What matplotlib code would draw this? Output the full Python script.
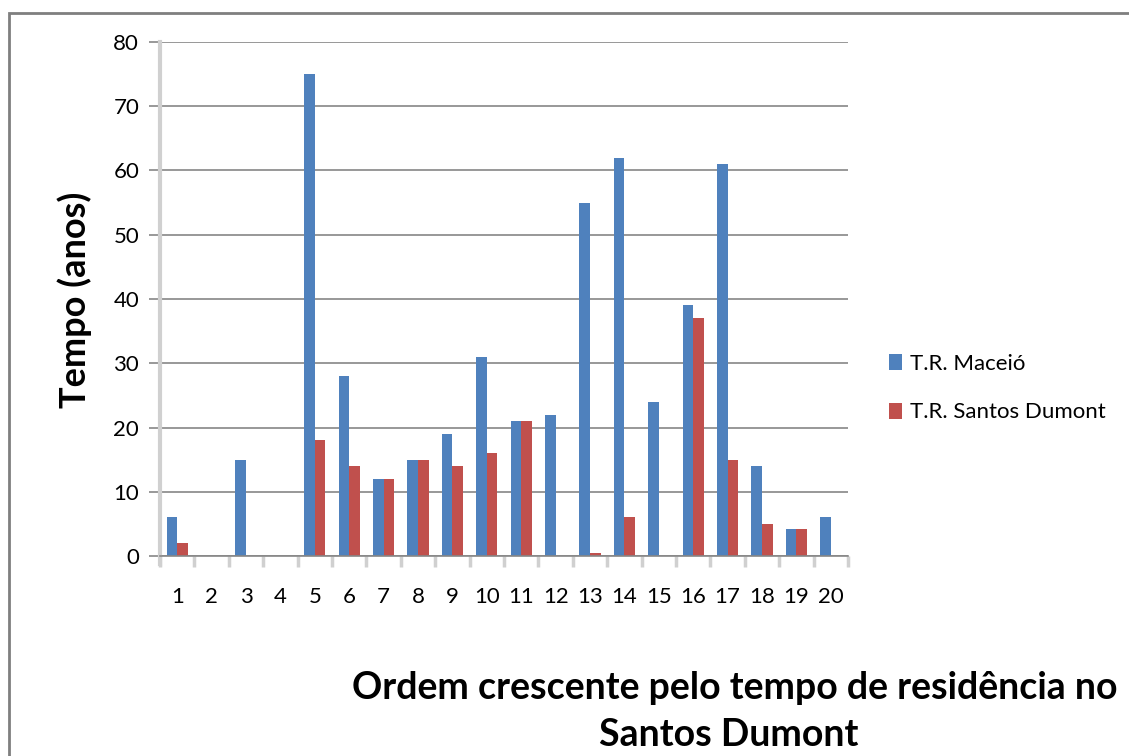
import matplotlib.pyplot as plt
import numpy as np
from matplotlib.patches import Rectangle

plt.rcParams['font.family'] = ['Lato', 'DejaVu Sans']

ordem = [str(i) for i in range(1, 21)]
tr_maceio = [6, 0, 15, 0, 75, 28, 12, 15, 19, 31, 21, 22, 55, 62, 24, 39, 61, 14, 4.2, 6]
tr_santos_dumont = [2, 0, 0, 0, 18, 14, 12, 15, 14, 16, 21, 0, 0.5, 6, 0, 37, 15, 5, 4.2, 0]

blue = '#4F81BD'
red = '#C0504D'

fig = plt.figure(figsize=(11.29, 7.56), dpi=100)

# outer chart frame (runs past the right and bottom edges)
fig.patches.append(Rectangle((9 / 1129, -0.1), 1.2, 1 - 13 / 756 + 0.1,
                             transform=fig.transFigure, fill=False,
                             edgecolor='#7f7f7f', linewidth=2))

ax = fig.add_axes([160 / 1129, 1 - 556 / 756, (848 - 160) / 1129, (556 - 42) / 756])

x = np.arange(len(ordem))
w = 0.31
ax.bar(x - w / 2, tr_maceio, w, color=blue, label='T.R. Maceió', zorder=3)
ax.bar(x + w / 2, tr_santos_dumont, w, color=red, label='T.R. Santos Dumont', zorder=3)

ax.set_xlim(-0.5, len(ordem) - 0.5)
ax.set_ylim(0, 80)
ax.set_yticks(range(0, 81, 10))
ax.yaxis.grid(True, color='#868686', linewidth=1.2, zorder=0)

ax.set_xticks(x)
ax.set_xticklabels(ordem, fontsize=16)
ax.set_xticks(np.arange(-0.5, len(ordem)), minor=True)
ax.tick_params(axis='x', which='major', length=0, pad=22)
ax.tick_params(axis='x', which='minor', length=8, width=2.5, color='#d0d0d0')
ax.tick_params(axis='y', length=8, width=1.2, color='#868686', labelsize=16, pad=7)

for side in ['top', 'right']:
    ax.spines[side].set_visible(False)
ax.spines['left'].set_color('#d0d0d0')
ax.spines['left'].set_linewidth(3)
ax.spines['left'].set_bounds(-1.2, 80)
ax.spines['bottom'].set_color('#868686')
ax.spines['bottom'].set_linewidth(1.2)
ax.spines['bottom'].set_zorder(4)

fig.text(75 / 1129, 1 - 300 / 756, 'Tempo (anos)', fontsize=26, fontweight='bold',
         rotation=90, ha='center', va='center')

fig.text(352 / 1129, 1 - 688 / 756, 'Ordem crescente pelo tempo de residência no',
         fontsize=27, fontweight='bold', ha='left', va='center')
fig.text(729 / 1129, 1 - 735 / 756, 'Santos Dumont',
         fontsize=27, fontweight='bold', ha='center', va='center')

ax.legend(loc='center left', bbox_to_anchor=((869 - 160) / 688, (556 - 388) / 514),
          frameon=False, fontsize=16, handlelength=0.6, handleheight=0.75,
          handletextpad=0.35, labelspacing=1.3)

fig.savefig('out.png', dpi=100)
